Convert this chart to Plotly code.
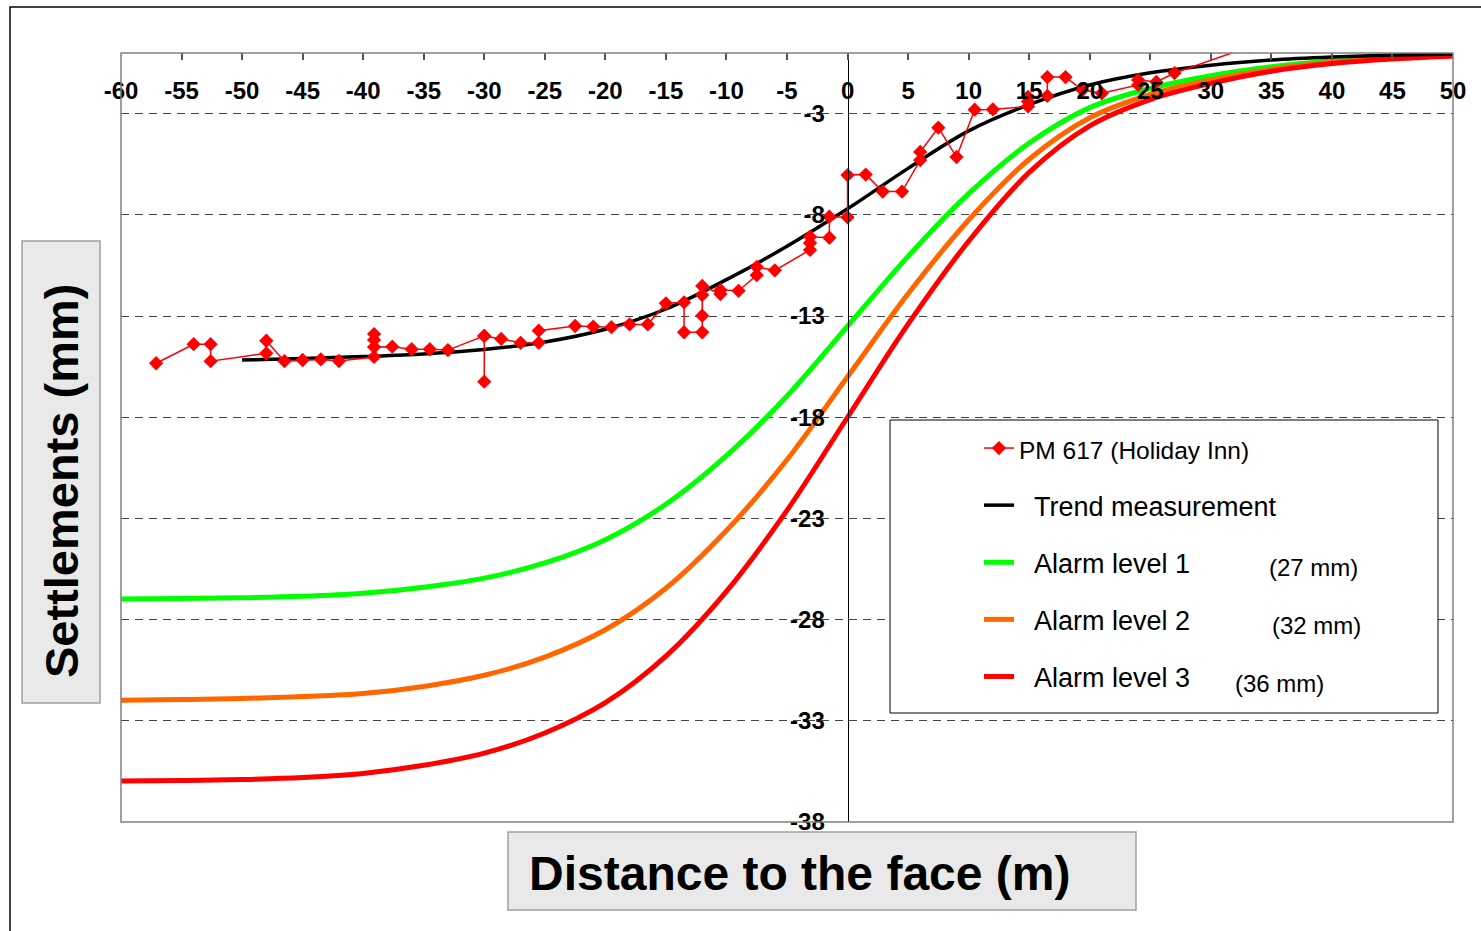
import plotly.graph_objects as go

# ---------------- data ----------------
pm_x = [-57.1, -54.0, -52.6, -52.6, -48.0, -48.0, -46.5, -45.0, -43.5, -42.0,
        -39.1, -39.1, -39.1, -39.1, -37.6, -36.0, -34.5, -33.0, -30.0, -30.0,
        -30.0, -28.6, -27.0, -25.5, -25.5, -22.5, -21.0, -19.5, -18.0, -16.5,
        -15.0, -13.5, -13.5, -12.0, -12.0, -12.0, -12.0, -10.5, -10.5, -9.0,
        -7.5, -7.5, -6.0, -3.1, -3.1, -3.1, -1.5, -1.5, 0.0, 0.0,
        1.5, 2.9, 4.5, 6.0, 6.0, 7.5, 9.0, 10.5, 12.0, 14.9,
        14.9, 14.9, 16.5, 16.5, 18.0, 19.4, 21.0, 24.0, 24.0, 25.5,
        27.0, 33.2]
pm_y = [-15.33, -14.39, -14.39, -15.23, -14.84, -14.22, -15.23, -15.17, -15.14, -15.22,
        -15.02, -13.89, -14.18, -14.53, -14.51, -14.64, -14.64, -14.68, -13.98, -16.24,
        -13.98, -14.13, -14.32, -14.32, -13.72, -13.49, -13.52, -13.55, -13.41, -13.41,
        -12.37, -12.32, -13.80, -13.80, -12.98, -11.96, -11.51, -11.91, -11.71, -11.75,
        -10.98, -10.57, -10.74, -9.73, -9.39, -9.08, -9.13, -8.09, -8.12, -6.03,
        -6.01, -6.85, -6.85, -5.29, -4.89, -3.69, -5.14, -2.80, -2.79, -2.64,
        -2.40, -2.17, -2.12, -1.19, -1.19, -1.83, -1.99, -1.58, -1.33, -1.43,
        -0.99, 0.31]

trend_x = [-50, -45, -40, -35, -30, -25, -20, -15, -10, -5, 0,
           5, 10, 15, 20, 25, 30, 35, 40, 45, 50]
trend_y = [-15.17, -15.1, -15.0, -14.87, -14.65, -14.28, -13.65, -12.65, -11.2, -9.55, -7.7,
           -5.7, -3.85, -2.55, -1.58, -0.98, -0.6, -0.35, -0.2, -0.1, -0.05]

alarm_x = [-60, -55, -50, -45, -40, -35, -30, -25, -20, -15, -10, -5, 0,
           5, 10, 15, 20, 25, 30, 35, 40, 45, 50]
alarm1_y = [-26.98, -26.96, -26.92, -26.85, -26.7, -26.4, -25.95, -25.2, -24.05, -22.3, -19.9, -16.95, -13.5,
            -10.05, -6.95, -4.45, -2.7, -1.75, -1.12, -0.68, -0.4, -0.23, -0.12]
alarm2_y = [-31.98, -31.95, -31.9, -31.8, -31.65, -31.3, -30.75, -29.85, -28.5, -26.45, -23.6, -20.1, -16.0,
            -11.9, -8.25, -5.25, -3.2, -2.05, -1.33, -0.8, -0.46, -0.27, -0.13]
alarm3_y = [-35.98, -35.95, -35.9, -35.8, -35.6, -35.2, -34.6, -33.6, -32.1, -29.8, -26.6, -22.6, -18.0,
            -13.4, -9.3, -5.9, -3.6, -2.3, -1.5, -0.9, -0.52, -0.3, -0.15]

x_tickvals = [-60, -55, -50, -45, -40, -35, -30, -25, -20, -15, -10, -5, 0,
              5, 10, 15, 20, 25, 30, 35, 40, 45, 50]
y_tickvals = [-38, -33, -28, -23, -18, -13, -8, -3]

alarm_notes = ["(27 mm)", "(32 mm)", "(36 mm)"]

# ---------------- figure ----------------
W, H = 1481, 931
L, R, T, B = 121, 28, 53, 109
PW, PH = W - L - R, H - T - B


def px(xp):
    return (xp - L) / PW


def py(yp):
    return (H - B - yp) / PH


FONT = "Arial, Liberation Sans, sans-serif"
IND = "\u00a0\u00a0"

fig = go.Figure()

fig.add_trace(go.Scatter(x=alarm_x, y=alarm1_y, mode="lines", name=IND + "Alarm level 1",
                         line=dict(color="#00ff00", width=5, shape="spline"),
                         legendrank=3, legendgroup="g3"))
fig.add_trace(go.Scatter(x=alarm_x, y=alarm2_y, mode="lines", name=IND + "Alarm level 2",
                         line=dict(color="#ff6600", width=5, shape="spline"),
                         legendrank=4, legendgroup="g4"))
fig.add_trace(go.Scatter(x=alarm_x, y=alarm3_y, mode="lines", name=IND + "Alarm level 3",
                         line=dict(color="#ff0000", width=5, shape="spline"),
                         legendrank=5, legendgroup="g5"))
fig.add_trace(go.Scatter(x=trend_x, y=trend_y, mode="lines", name=IND + "Trend measurement",
                         line=dict(color="#000000", width=3.5, shape="spline"),
                         legendrank=2, legendgroup="g2"))
fig.add_trace(go.Scatter(x=pm_x, y=pm_y, mode="lines+markers",
                         name='<span style="font-size:24.5px">PM 617 (Holiday Inn)</span>',
                         line=dict(color="#ff0000", width=1.5),
                         marker=dict(symbol="diamond", size=11, color="#ff0000"),
                         legendrank=1, legendgroup="g1"))
# carrier for the top tick-mark axis
fig.add_trace(go.Scatter(x=[None], y=[None], xaxis="x2", yaxis="y", mode="lines",
                         showlegend=False, hoverinfo="skip"))

shapes = [
    dict(type="rect", xref="paper", yref="paper", x0=px(10), x1=px(1500), y0=py(960), y1=py(7),
         line=dict(color="#000000", width=1.5), fillcolor="rgba(0,0,0,0)", layer="below"),
    dict(type="rect", xref="paper", yref="paper", x0=0, x1=1, y0=0, y1=1,
         line=dict(color="#808080", width=1.5), layer="above"),
    dict(type="rect", xref="paper", yref="paper", x0=px(890), x1=px(1438), y0=py(713), y1=py(420),
         line=dict(color="#000000", width=1), fillcolor="#ffffff", layer="above"),
    dict(type="rect", xref="paper", yref="paper", x0=px(508), x1=px(1136), y0=py(910), y1=py(832),
         line=dict(color="#a0a0a0", width=1.5), fillcolor="#e9e9e9", layer="above"),
    dict(type="rect", xref="paper", yref="paper", x0=px(22), x1=px(100), y0=py(703), y1=py(241),
         line=dict(color="#a0a0a0", width=1.5), fillcolor="#e9e9e9", layer="above"),
]

annotations = [
    dict(text="<b>Distance to the face (m)</b>", xref="paper", yref="paper",
         x=px(799), y=py(873), xanchor="center", yanchor="middle", showarrow=False,
         font=dict(family=FONT, size=48, color="#000000")),
    dict(text="<b>Settlements (mm)</b>", xref="paper", yref="paper",
         x=px(61), y=py(481), xanchor="center", yanchor="middle", showarrow=False, textangle=-90,
         font=dict(family=FONT, size=47, color="#000000")),
]
note_pos = [(1313, 567), (1316, 625), (1279, 683)]
for txt, (xp, yp) in zip(alarm_notes, note_pos):
    annotations.append(dict(text=txt, xref="paper", yref="paper", x=px(xp), y=py(yp),
                            xanchor="center", yanchor="middle", showarrow=False,
                            font=dict(family=FONT, size=24, color="#000000")))

fig.update_layout(
    width=W, height=H,
    margin=dict(l=L, r=R, t=T, b=B),
    paper_bgcolor="#ffffff", plot_bgcolor="#ffffff",
    font=dict(family=FONT, color="#000000"),
    xaxis=dict(range=[-60, 50], anchor="free", position=py(74), side="bottom",
               tickvals=x_tickvals, ticktext=[str(v) for v in x_tickvals],
               ticks="", showticklabels=True,
               tickfont=dict(family=FONT, size=24, color="#000000", weight="bold"),
               showgrid=False, zeroline=False, showline=False, fixedrange=True),
    xaxis2=dict(range=[-60, 50], overlaying="x", matches="x", anchor="y", side="top",
                tickvals=x_tickvals, ticks="inside", ticklen=7, tickcolor="#555555", tickwidth=1.5,
                showticklabels=False, showgrid=False, zeroline=False, showline=False,
                fixedrange=True),
    yaxis=dict(range=[-38, 0], anchor="free", position=60 / 110, side="left",
               tickvals=y_tickvals, ticktext=[str(v) for v in y_tickvals],
               ticks="outside", ticklen=18, tickcolor="rgba(0,0,0,0)",
               tickfont=dict(family=FONT, size=24, color="#000000", weight="bold"),
               showline=True, linecolor="#000000", linewidth=1,
               showgrid=True, gridcolor="#444444", gridwidth=1, griddash="8px,6px",
               zeroline=False, fixedrange=True),
    legend=dict(x=px(979), y=py(424), xanchor="left", yanchor="top",
                bgcolor="rgba(0,0,0,0)", borderwidth=0,
                font=dict(family=FONT, size=27, color="#000000"),
                tracegroupgap=19, traceorder="grouped"),
    shapes=shapes,
    annotations=annotations,
    showlegend=True,
)

fig.write_html("out.html")
